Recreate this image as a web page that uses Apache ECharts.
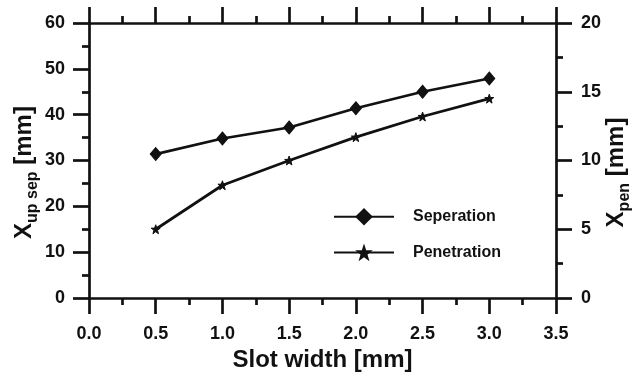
<!DOCTYPE html>
<html>
<head>
<meta charset="utf-8">
<script src="https://cdn.jsdelivr.net/npm/echarts@6/dist/echarts.min.js"></script>
<style>html,body{margin:0;padding:0;background:#fff;}#c{width:640px;height:375px;}</style>
</head>
<body>
<div id="c"></div>
<script>
var slotWidth = [0.5, 1.0, 1.5, 2.0, 2.5, 3.0];
var separation = [31.4, 34.8, 37.2, 41.4, 45.0, 47.9];
var penetration = [5.0, 8.2, 10.0, 11.7, 13.2, 14.5];
var xTicks = [0, 0.5, 1.0, 1.5, 2.0, 2.5, 3.0, 3.5];

var FONT = '"Liberation Sans", Arial, sans-serif';
var INK = '#111';
var STAR = 'path://M0,-10 L2.35,-3.24 L9.51,-3.09 L3.8,1.24 L5.88,8.09 L0,4 L-5.88,8.09 L-3.8,1.24 L-9.51,-3.09 L-2.35,-3.24 Z';

function pairs(xs, ys){ return xs.map(function(x,i){ return [x, ys[i]]; }); }

var axisLine = {show:true, onZero:false, lineStyle:{color:INK, width:2.7}};
var majorTick = {show:true, inside:false, length:16, lineStyle:{color:INK, width:2.7}};
var minorTick = {show:true, splitNumber:2, length:7, lineStyle:{color:INK, width:2.7}};
var labelStyle = {color:INK, fontFamily:FONT, fontWeight:'bold', fontSize:18};
function titleRich(){
  return {
    x:{color:INK, fontFamily:FONT, fontWeight:'bold', fontSize:24, verticalAlign:'bottom'},
    s:{color:INK, fontFamily:FONT, fontWeight:'bold', fontSize:16, verticalAlign:'bottom', padding:[0,0,-5,0]},
    u:{color:INK, fontFamily:FONT, fontWeight:'bold', fontSize:24, verticalAlign:'bottom'}
  };
}

var chart = echarts.init(document.getElementById('c'), null, {renderer:'canvas'});
chart.setOption({
  animation:false,
  backgroundColor:'#fff',
  grid:{left:89, right:84, top:23, bottom:77, containLabel:false, outerBoundsMode:'none'},
  legend:{
    orient:'vertical', left:333, top:208, padding:0, itemWidth:60, itemHeight:22, itemGap:18,
    textStyle:{color:INK, fontFamily:FONT, fontWeight:'bold', fontSize:16, padding:[0,0,0,14]},
    data:['Seperation','Penetration']
  },
  xAxis:[{
    type:'value', min:xTicks[0], max:xTicks[xTicks.length-1], interval:0.5, position:'bottom',
    axisLine:axisLine, axisTick:majorTick, minorTick:minorTick,
    splitLine:{show:false}, minorSplitLine:{show:false},
    axisLabel:Object.assign({margin:27, formatter:function(v){return v.toFixed(1);}}, labelStyle),
    name:'Slot width [mm]', nameLocation:'middle', nameGap:50, nameMoveOverlap:false,
    nameTextStyle:{color:INK, fontFamily:FONT, fontWeight:'bold', fontSize:24}
  },{
    type:'value', min:xTicks[0], max:xTicks[xTicks.length-1], interval:0.5, position:'top',
    axisLine:axisLine, axisTick:majorTick, minorTick:minorTick,
    splitLine:{show:false}, axisLabel:{show:false}
  }],
  yAxis:[{
    type:'value', min:0, max:60, interval:10, position:'left',
    axisLine:axisLine, axisTick:majorTick, minorTick:minorTick,
    splitLine:{show:false},
    axisLabel:Object.assign({margin:24}, labelStyle),
    name:'{x|X}{s|up sep}{u| [mm]}', nameLocation:'middle', nameGap:53, nameMoveOverlap:false,
    nameTextStyle:{padding:[0,24,0,0], rich:titleRich()}
  },{
    type:'value', min:0, max:20, interval:5, position:'right',
    axisLine:axisLine, axisTick:majorTick, minorTick:minorTick,
    splitLine:{show:false},
    axisLabel:Object.assign({margin:25}, labelStyle),
    name:'{x|X}{s|pen}{u| [mm]}', nameLocation:'middle', nameGap:48, nameMoveOverlap:false,
    nameTextStyle:{padding:[0,24,0,0], rich:titleRich()}
  }],
  series:[{
    name:'Seperation', type:'line', xAxisIndex:0, yAxisIndex:0,
    data:pairs(slotWidth, separation),
    symbol:'diamond', symbolSize:[11,13],
    lineStyle:{color:INK, width:2.7}, itemStyle:{color:INK, borderColor:INK}
  },{
    name:'Penetration', type:'line', xAxisIndex:0, yAxisIndex:1,
    data:pairs(slotWidth, penetration),
    symbol:STAR, symbolSize:9,
    lineStyle:{color:INK, width:2.7}, itemStyle:{color:INK, borderColor:INK}
  }]
});
</script>
</body>
</html>
